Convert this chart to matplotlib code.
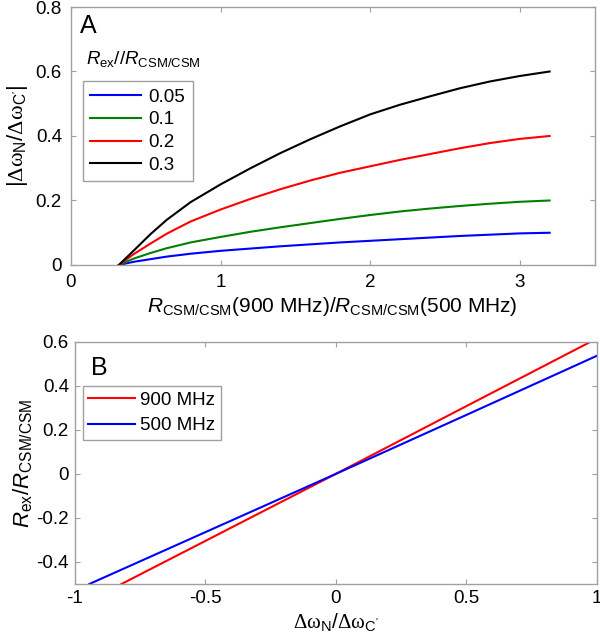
import matplotlib
matplotlib.use("Agg")
import matplotlib.pyplot as plt

plt.rcParams["font.family"] = ["Liberation Sans", "DejaVu Sans"]
plt.rcParams["mathtext.fontset"] = "custom"
plt.rcParams["mathtext.rm"] = "Liberation Serif"
plt.rcParams["mathtext.it"] = "Liberation Sans:italic"
plt.rcParams["mathtext.sf"] = "Liberation Sans"
plt.rcParams["axes.unicode_minus"] = False

# panel A: |dwN/dwC'| vs R(900)/R(500), one curve per Rex/R ratio
ratio_x = [0.32, 0.42, 0.53, 0.64, 0.8, 1.0, 1.2, 1.4, 1.6, 1.8, 2.0, 2.2, 2.4, 2.6, 2.8, 3.0, 3.2]
curve_005 = [0, 0.010, 0.018, 0.026, 0.035, 0.044, 0.051, 0.058, 0.064, 0.070, 0.075, 0.080,
             0.085, 0.090, 0.094, 0.098, 0.100]
curve_01 = [0, 0.020, 0.037, 0.052, 0.070, 0.087, 0.103, 0.117, 0.130, 0.143, 0.155, 0.166,
            0.175, 0.183, 0.190, 0.196, 0.200]
curve_02 = [0, 0.034, 0.066, 0.097, 0.135, 0.172, 0.205, 0.235, 0.262, 0.286, 0.306, 0.326,
            0.344, 0.362, 0.378, 0.391, 0.400]
curve_03 = [0, 0.045, 0.095, 0.140, 0.195, 0.250, 0.300, 0.347, 0.390, 0.430, 0.467, 0.497,
            0.523, 0.548, 0.569, 0.586, 0.600]
ratio_labels = ["0.05", "0.1", "0.2", "0.3"]
a_xticks = [0, 1, 2, 3]
a_yticks = [0, 0.2, 0.4, 0.6, 0.8]
a_yticklabels = ["0", "0.2", "0.4", "0.6", "0.8"]

# panel B: Rex/R vs dwN/dwC' at two fields
x_900 = [-0.82, -0.5, 0.0, 0.5, 0.975]
y_900 = [-0.5, -0.305, 0.0, 0.308, 0.6]
x_500 = [-0.943, -0.5, 0.0, 0.5, 1.0]
y_500 = [-0.5, -0.265, 0.0, 0.268, 0.537]
field_labels = ["900 MHz", "500 MHz"]
b_xticks = [-1, -0.5, 0, 0.5, 1]
b_xticklabels = ["-1", "-0.5", "0", "0.5", "1"]
b_yticks = [-0.4, -0.2, 0, 0.2, 0.4, 0.6]
b_yticklabels = ["-0.4", "-0.2", "0", "0.2", "0.4", "0.6"]

SPINE = "#a0a0a0"
FS = 13.5
LFS = 15


def style_axes(ax, pad):
    for sp in ax.spines.values():
        sp.set_color(SPINE)
        sp.set_linewidth(1.0)
    ax.tick_params(direction="in", length=3.6, width=0.8, color=SPINE,
                   top=True, right=True, labelsize=FS, pad=pad)


fig = plt.figure(figsize=(6, 6.41), dpi=100)

ax_a = fig.add_axes([71 / 600, 1 - 265 / 641, 523.5 / 600, 258 / 641])
colors = ["#0000ff", "#008000", "#ff0000", "#000000"]
for ys, c, lab in zip([curve_005, curve_01, curve_02, curve_03], colors, ratio_labels):
    ax_a.plot(ratio_x, ys, color=c, lw=1.5, label=lab)
ax_a.set_xlim(0, 3.5)
ax_a.set_ylim(0, 0.8)
ax_a.set_xticks(a_xticks)
ax_a.set_yticks(a_yticks, a_yticklabels)
style_axes(ax_a, 6.5)
ax_a.set_xlabel(r"$R_{\mathsf{CSM/CSM}}$(900 MHz)/$R_{\mathsf{CSM/CSM}}$(500 MHz)",
                fontsize=LFS, labelpad=3)
ax_a.set_ylabel(r"$\mathsf{|}\mathrm{\Delta\omega}_{\mathsf{N}}\mathsf{/}\mathrm{\Delta\omega}_{\mathsf{C}'}\mathsf{|}$",
                fontsize=LFS + 1, labelpad=4)
ax_a.text(0.017, 0.899, "A", transform=ax_a.transAxes, fontsize=18, va="baseline")
ax_a.text(0.0287, 0.779, r"$R_{\mathsf{ex}}$//$R_{\mathsf{CSM/CSM}}$", transform=ax_a.transAxes,
          fontsize=FS, va="baseline")
leg_a = ax_a.legend(loc="upper left", bbox_to_anchor=(0.0224, 0.713), borderaxespad=0,
                    fontsize=FS, handlelength=2.7, handletextpad=0.4, labelspacing=0.3,
                    borderpad=0.4, fancybox=False, framealpha=1)
leg_a.get_frame().set_edgecolor(SPINE)
leg_a.get_frame().set_linewidth(1.0)

ax_b = fig.add_axes([74.5 / 600, 1 - 584 / 641, 522.2 / 600, 242 / 641])
ax_b.plot(x_900, y_900, color="#ff0000", lw=1.5, label=field_labels[0])
ax_b.plot(x_500, y_500, color="#0000ff", lw=1.5, label=field_labels[1])
ax_b.set_xlim(-1, 1)
ax_b.set_ylim(-0.5, 0.6)
ax_b.set_xticks(b_xticks, b_xticklabels)
ax_b.set_yticks(b_yticks, b_yticklabels)
style_axes(ax_b, 4)
ax_b.set_xlabel(r"$\mathrm{\Delta\omega}_{\mathsf{N}}\mathsf{/}\mathrm{\Delta\omega}_{\mathsf{C}'}$",
                fontsize=LFS, labelpad=4)
ax_b.set_ylabel(r"$R_{\mathsf{ex}}\mathsf{/}R_{\mathsf{CSM/CSM}}$", fontsize=LFS + 1, labelpad=1)
ax_b.text(0.031, 0.864, "B", transform=ax_b.transAxes, fontsize=18, va="baseline")
leg_b = ax_b.legend(loc="upper left", bbox_to_anchor=(0.0157, 0.818), borderaxespad=0,
                    fontsize=FS, handlelength=2.5, handletextpad=0.28, labelspacing=0.45,
                    borderpad=0.3, fancybox=False, framealpha=1)
leg_b.get_frame().set_edgecolor(SPINE)
leg_b.get_frame().set_linewidth(1.0)

fig.savefig("out.png", dpi=100)
